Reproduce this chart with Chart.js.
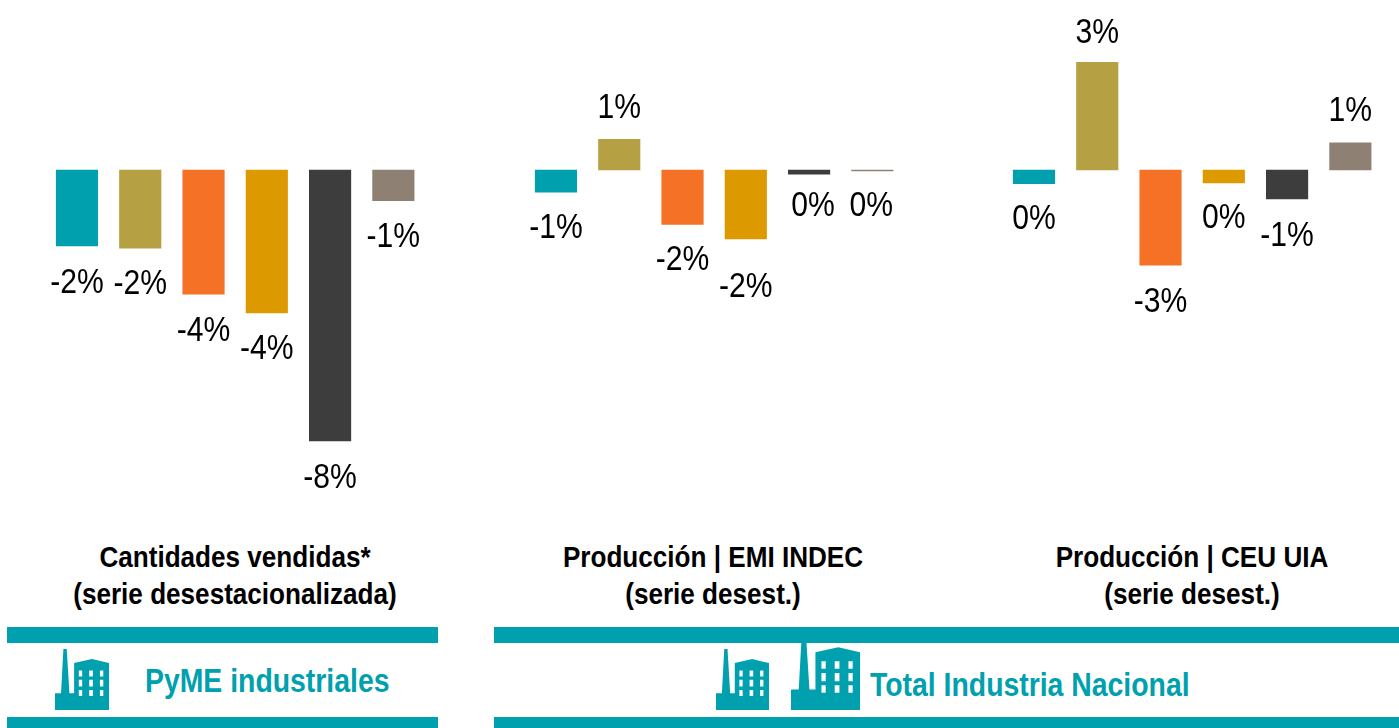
<!DOCTYPE html>
<html lang="es">
<head>
<meta charset="utf-8">
<title>Industria</title>
<script src="https://cdn.jsdelivr.net/npm/chart.js@4"></script>
<style>
    html, body { margin: 0; padding: 0; background: #fff; }
    body { position: relative; width: 1399px; height: 728px; overflow: hidden; font-family: "Liberation Sans", sans-serif; }
    canvas { position: absolute; top: 0; }
    .band { position: absolute; background: #00A0AF; }
    .title { position: absolute; width: 420px; text-align: center; font-weight: bold; font-size: 29px; line-height: 37px; color: #000; top: 539px; transform: scaleX(0.9); }
    .name { position: absolute; font-weight: bold; font-size: 33px; line-height: 40px; color: #00A0AF; white-space: nowrap; transform: scaleX(0.86); transform-origin: left center; }
    svg.icon { position: absolute; fill: #00A0AF; }
</style>
</head>
<body>
<canvas id="chart1" width="380" height="510" style="left:45px"></canvas>
<canvas id="chart2" width="380" height="510" style="left:524px"></canvas>
<canvas id="chart3" width="380" height="510" style="left:1002px"></canvas>

<div class="title" style="left:25px">Cantidades vendidas*<br>(serie desestacionalizada)</div>
<div class="title" style="left:503px">Producción | EMI INDEC<br>(serie desest.)</div>
<div class="title" style="left:982px">Producción | CEU UIA<br>(serie desest.)</div>

<div class="band" style="left:7px;top:627px;width:431px;height:16px"></div>
<div class="band" style="left:7px;top:717px;width:431px;height:11px"></div>
<div class="band" style="left:494px;top:627px;width:905px;height:16px"></div>
<div class="band" style="left:494px;top:717px;width:905px;height:11px"></div>

<svg width="0" height="0" style="position:absolute">
    <symbol id="factory" viewBox="165 358 161 182" preserveAspectRatio="none">
        <path fill-rule="evenodd" d="M165 540V490H183L190 358H200L208 490H222V400L275 388L326 400V540Z
            M236 422V440H246V422Z M267 422V440H278V422Z M299 422V440H309V422Z
            M236 450V470H246V450Z M267 450V470H278V450Z M299 450V470H309V450Z
            M236 480V498H246V480Z M267 480V498H278V480Z M299 480V498H309V480Z"/>
    </symbol>
</svg>
<svg class="icon" style="left:55px;top:649px" width="54" height="61"><use href="#factory"/></svg>
<svg class="icon" style="left:716px;top:649px" width="53" height="61"><use href="#factory"/></svg>
<svg class="icon" style="left:791px;top:635px" width="69" height="75"><use href="#factory"/></svg>

<div class="name" style="left:145px;top:661px">PyME industriales</div>
<div class="name" style="left:870px;top:665px">Total Industria Nacional</div>

<script>
const categories = ["1", "2", "3", "4", "5", "6"];
const barColors = ["#00A0AF", "#B5A144", "#F47125", "#DD9A00", "#3D3D3D", "#8E8174"];
const pymeValues = [-2.23, -2.3, -3.65, -4.2, -7.97, -0.9];
const emiValues = [-0.65, 0.9, -1.6, -2.03, -0.12, -0.03];
const ceuValues = [-0.4, 3.17, -2.8, -0.38, -0.85, 0.8];
const minValue = -10;
const maxValue = 5;

// no narrow font here, so the labels get squeezed by hand
const barLabels = {
    id: "barLabels",
    afterDatasetsDraw(chart, args, opts) {
        const ctx = chart.ctx;
        const values = chart.data.datasets[0].data;
        ctx.save();
        ctx.font = "35px 'Liberation Sans', sans-serif";
        ctx.fillStyle = "#000";
        ctx.textAlign = "center";
        chart.getDatasetMeta(0).data.forEach((bar, i) => {
            const v = values[i];
            const text = `${Math.round(v) + 0}%`;
            const [dx, dy] = opts.nudge[i];
            ctx.save();
            ctx.translate(bar.x + dx, bar.y + dy);
            ctx.scale(0.86, 1);
            if (v >= 0) {
                ctx.textBaseline = "bottom";
                ctx.fillText(text, 0, -12);
            } else {
                ctx.textBaseline = "top";
                ctx.fillText(text, 0, 20);
            }
            ctx.restore();
        });
        ctx.restore();
    },
};

function drawChart(id, values, nudge) {
    const ctx = document.getElementById(id).getContext("2d");
    return new Chart(ctx, {
        type: "bar",
        data: {
            labels: categories,
            datasets: [
                {
                    data: values,
                    backgroundColor: barColors,
                    borderWidth: 0,
                    barThickness: 41.5,
                },
            ],
        },
        options: {
            responsive: false,
            animation: false,
            layout: { padding: { left: 0.33 } },
            scales: {
                x: { display: false },
                y: { display: false, min: minValue, max: maxValue },
            },
            plugins: {
                legend: { display: false },
                tooltip: { enabled: false },
                barLabels: { nudge: nudge },
            },
        },
        plugins: [barLabels],
    });
}

drawChart("chart1", pymeValues, [[0, 0], [0, -1], [0, 0], [0, -1], [0, 0], [0, -1]]);
drawChart("chart2", emiValues, [[0, -1], [0, -2], [0, -2], [0, 11], [4, -5], [-1, -2]]);
drawChart("chart3", ceuValues, [[0, -2], [0, 1], [0, 0], [0, -2], [0, 0], [0, -2]]);
</script>
</body>
</html>
